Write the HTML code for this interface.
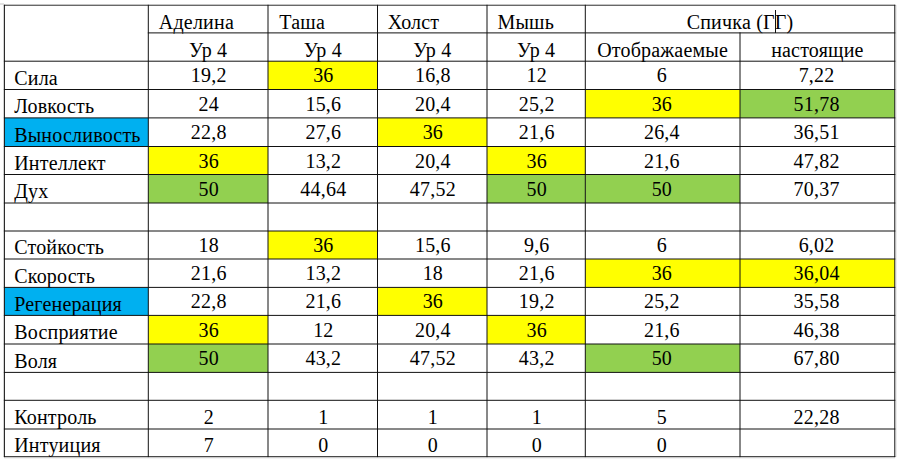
<!DOCTYPE html>
<html><head><meta charset="utf-8"><style>
html,body{margin:0;padding:0;background:#fff;}
body{width:900px;height:462px;position:relative;overflow:hidden;}
svg{position:absolute;left:0;top:0;}
.t{position:absolute;font-family:"Liberation Serif",serif;font-size:20px;line-height:40px;height:40px;white-space:nowrap;color:#000;letter-spacing:0.2px;}
.t::after{content:"";}
.c{text-align:center;}
</style></head><body>
<svg width="900" height="462" style="z-index:0"><rect x="3" y="5" width="1" height="452" fill="#ebebeb"/><rect x="0" y="3" width="4" height="2" fill="#e2e2e2"/><rect x="4" y="4" width="891" height="1" fill="#e6e6e6"/><rect x="4" y="457" width="891" height="1" fill="#dcdcdc"/><rect x="4" y="458" width="891" height="1" fill="#f2f2f2"/><rect x="896" y="5" width="1" height="452" fill="#ececec"/><rect x="268.00" y="61.20" width="109.50" height="28.30" fill="#ffff00"/><rect x="585.30" y="89.50" width="154.70" height="28.40" fill="#ffff00"/><rect x="740.00" y="89.50" width="154.80" height="28.40" fill="#92d050"/><rect x="4.40" y="117.90" width="143.90" height="28.60" fill="#00b0f0"/><rect x="377.50" y="117.90" width="109.50" height="28.60" fill="#ffff00"/><rect x="148.30" y="146.50" width="119.70" height="28.00" fill="#ffff00"/><rect x="487.00" y="146.50" width="98.30" height="28.00" fill="#ffff00"/><rect x="148.30" y="174.50" width="119.70" height="28.50" fill="#92d050"/><rect x="487.00" y="174.50" width="98.30" height="28.50" fill="#92d050"/><rect x="585.30" y="174.50" width="154.70" height="28.50" fill="#92d050"/><rect x="268.00" y="231.00" width="109.50" height="28.00" fill="#ffff00"/><rect x="585.30" y="259.00" width="154.70" height="28.40" fill="#ffff00"/><rect x="740.00" y="259.00" width="154.80" height="28.40" fill="#ffff00"/><rect x="4.40" y="287.40" width="143.90" height="28.00" fill="#00b0f0"/><rect x="377.50" y="287.40" width="109.50" height="28.00" fill="#ffff00"/><rect x="148.30" y="315.40" width="119.70" height="28.60" fill="#ffff00"/><rect x="487.00" y="315.40" width="98.30" height="28.60" fill="#ffff00"/><rect x="148.30" y="344.00" width="119.70" height="28.40" fill="#92d050"/><rect x="585.30" y="344.00" width="154.70" height="28.40" fill="#92d050"/></svg>
<svg width="900" height="462" style="z-index:1" stroke="#111" stroke-width="1.0" stroke-linecap="square"><line x1="4.4" y1="5.30" x2="894.8" y2="5.30" stroke-width="0.8"/><line x1="148.3" y1="32.90" x2="894.8" y2="32.90"/><line x1="4.4" y1="61.20" x2="894.8" y2="61.20"/><line x1="4.4" y1="89.50" x2="894.8" y2="89.50"/><line x1="4.4" y1="117.90" x2="894.8" y2="117.90"/><line x1="4.4" y1="146.50" x2="894.8" y2="146.50"/><line x1="4.4" y1="174.50" x2="894.8" y2="174.50"/><line x1="4.4" y1="203.00" x2="894.8" y2="203.00"/><line x1="4.4" y1="231.00" x2="894.8" y2="231.00"/><line x1="4.4" y1="259.00" x2="894.8" y2="259.00"/><line x1="4.4" y1="287.40" x2="894.8" y2="287.40"/><line x1="4.4" y1="315.40" x2="894.8" y2="315.40"/><line x1="4.4" y1="344.00" x2="894.8" y2="344.00"/><line x1="4.4" y1="372.40" x2="894.8" y2="372.40"/><line x1="4.4" y1="400.30" x2="894.8" y2="400.30"/><line x1="4.4" y1="429.00" x2="894.8" y2="429.00"/><line x1="4.4" y1="456.60" x2="894.8" y2="456.60" stroke-width="0.85"/><line x1="4.40" y1="5.30" x2="4.40" y2="456.60"/><line x1="148.30" y1="5.30" x2="148.30" y2="456.60"/><line x1="268.00" y1="5.30" x2="268.00" y2="456.60"/><line x1="377.50" y1="5.30" x2="377.50" y2="456.60"/><line x1="487.00" y1="5.30" x2="487.00" y2="456.60"/><line x1="585.30" y1="5.30" x2="585.30" y2="456.60"/><line x1="740.00" y1="32.90" x2="740.00" y2="456.60"/><line x1="894.80" y1="5.30" x2="894.80" y2="456.60"/></svg>
<div class="t" style="left:158.80px;top:1.85px">Аделина</div><div class="t c" style="left:148.30px;width:119.70px;top:29.55px">Ур 4</div><div class="t" style="left:279.30px;top:1.85px">Таша</div><div class="t c" style="left:268.00px;width:109.50px;top:29.55px">Ур 4</div><div class="t" style="left:387.80px;top:1.85px">Холст</div><div class="t c" style="left:377.50px;width:109.50px;top:29.55px">Ур 4</div><div class="t" style="left:497.50px;top:1.85px">Мышь</div><div class="t c" style="left:487.00px;width:98.30px;top:29.55px">Ур 4</div><div class="t c" style="left:585.30px;width:309.50px;top:1.85px">Спичка (ГГ)</div><div class="t c" style="left:585.30px;width:154.70px;top:29.55px">Отображаемые</div><div class="t c" style="left:740.00px;width:154.80px;top:29.55px">настоящие</div><div class="t" style="left:14.20px;top:57.95px">Сила</div><div class="t c" style="left:148.90px;width:119.70px;top:55.35px">19,2</div><div class="t c" style="left:268.60px;width:109.50px;top:55.35px">36</div><div class="t c" style="left:378.10px;width:109.50px;top:55.35px">16,8</div><div class="t c" style="left:487.60px;width:98.30px;top:55.35px">12</div><div class="t c" style="left:584.50px;width:154.70px;top:55.35px">6</div><div class="t c" style="left:739.20px;width:154.80px;top:55.35px">7,22</div><div class="t" style="left:14.20px;top:86.35px">Ловкость</div><div class="t c" style="left:148.90px;width:119.70px;top:83.70px">24</div><div class="t c" style="left:268.60px;width:109.50px;top:83.70px">15,6</div><div class="t c" style="left:378.10px;width:109.50px;top:83.70px">20,4</div><div class="t c" style="left:487.60px;width:98.30px;top:83.70px">25,2</div><div class="t c" style="left:584.50px;width:154.70px;top:83.70px">36</div><div class="t c" style="left:739.20px;width:154.80px;top:83.70px">51,78</div><div class="t" style="left:14.20px;top:114.95px">Выносливость</div><div class="t c" style="left:148.90px;width:119.70px;top:112.20px">22,8</div><div class="t c" style="left:268.60px;width:109.50px;top:112.20px">27,6</div><div class="t c" style="left:378.10px;width:109.50px;top:112.20px">36</div><div class="t c" style="left:487.60px;width:98.30px;top:112.20px">21,6</div><div class="t c" style="left:584.50px;width:154.70px;top:112.20px">26,4</div><div class="t c" style="left:739.20px;width:154.80px;top:112.20px">36,51</div><div class="t" style="left:14.20px;top:142.95px">Интеллект</div><div class="t c" style="left:148.90px;width:119.70px;top:140.50px">36</div><div class="t c" style="left:268.60px;width:109.50px;top:140.50px">13,2</div><div class="t c" style="left:378.10px;width:109.50px;top:140.50px">20,4</div><div class="t c" style="left:487.60px;width:98.30px;top:140.50px">36</div><div class="t c" style="left:584.50px;width:154.70px;top:140.50px">21,6</div><div class="t c" style="left:739.20px;width:154.80px;top:140.50px">47,82</div><div class="t" style="left:14.20px;top:171.45px">Дух</div><div class="t c" style="left:148.90px;width:119.70px;top:168.75px">50</div><div class="t c" style="left:268.60px;width:109.50px;top:168.75px">44,64</div><div class="t c" style="left:378.10px;width:109.50px;top:168.75px">47,52</div><div class="t c" style="left:487.60px;width:98.30px;top:168.75px">50</div><div class="t c" style="left:584.50px;width:154.70px;top:168.75px">50</div><div class="t c" style="left:739.20px;width:154.80px;top:168.75px">70,37</div><div class="t" style="left:14.20px;top:227.45px">Стойкость</div><div class="t c" style="left:148.90px;width:119.70px;top:225.00px">18</div><div class="t c" style="left:268.60px;width:109.50px;top:225.00px">36</div><div class="t c" style="left:378.10px;width:109.50px;top:225.00px">15,6</div><div class="t c" style="left:487.60px;width:98.30px;top:225.00px">9,6</div><div class="t c" style="left:584.50px;width:154.70px;top:225.00px">6</div><div class="t c" style="left:739.20px;width:154.80px;top:225.00px">6,02</div><div class="t" style="left:14.20px;top:255.85px">Скорость</div><div class="t c" style="left:148.90px;width:119.70px;top:253.20px">21,6</div><div class="t c" style="left:268.60px;width:109.50px;top:253.20px">13,2</div><div class="t c" style="left:378.10px;width:109.50px;top:253.20px">18</div><div class="t c" style="left:487.60px;width:98.30px;top:253.20px">21,6</div><div class="t c" style="left:584.50px;width:154.70px;top:253.20px">36</div><div class="t c" style="left:739.20px;width:154.80px;top:253.20px">36,04</div><div class="t" style="left:14.20px;top:283.85px">Регенерация</div><div class="t c" style="left:148.90px;width:119.70px;top:281.40px">22,8</div><div class="t c" style="left:268.60px;width:109.50px;top:281.40px">21,6</div><div class="t c" style="left:378.10px;width:109.50px;top:281.40px">36</div><div class="t c" style="left:487.60px;width:98.30px;top:281.40px">19,2</div><div class="t c" style="left:584.50px;width:154.70px;top:281.40px">25,2</div><div class="t c" style="left:739.20px;width:154.80px;top:281.40px">35,58</div><div class="t" style="left:14.20px;top:312.45px">Восприятие</div><div class="t c" style="left:148.90px;width:119.70px;top:309.70px">36</div><div class="t c" style="left:268.60px;width:109.50px;top:309.70px">12</div><div class="t c" style="left:378.10px;width:109.50px;top:309.70px">20,4</div><div class="t c" style="left:487.60px;width:98.30px;top:309.70px">36</div><div class="t c" style="left:584.50px;width:154.70px;top:309.70px">21,6</div><div class="t c" style="left:739.20px;width:154.80px;top:309.70px">46,38</div><div class="t" style="left:14.20px;top:340.85px">Воля</div><div class="t c" style="left:148.90px;width:119.70px;top:338.20px">50</div><div class="t c" style="left:268.60px;width:109.50px;top:338.20px">43,2</div><div class="t c" style="left:378.10px;width:109.50px;top:338.20px">47,52</div><div class="t c" style="left:487.60px;width:98.30px;top:338.20px">43,2</div><div class="t c" style="left:584.50px;width:154.70px;top:338.20px">50</div><div class="t c" style="left:739.20px;width:154.80px;top:338.20px">67,80</div><div class="t" style="left:14.20px;top:397.45px">Контроль</div><div class="t c" style="left:148.90px;width:119.70px;top:397.45px">2</div><div class="t c" style="left:268.60px;width:109.50px;top:397.45px">1</div><div class="t c" style="left:378.10px;width:109.50px;top:397.45px">1</div><div class="t c" style="left:487.60px;width:98.30px;top:397.45px">1</div><div class="t c" style="left:584.50px;width:154.70px;top:397.45px">5</div><div class="t c" style="left:739.20px;width:154.80px;top:397.45px">22,28</div><div class="t" style="left:14.20px;top:425.05px">Интуиция</div><div class="t c" style="left:148.90px;width:119.70px;top:425.05px">7</div><div class="t c" style="left:268.60px;width:109.50px;top:425.05px">0</div><div class="t c" style="left:378.10px;width:109.50px;top:425.05px">0</div><div class="t c" style="left:487.60px;width:98.30px;top:425.05px">0</div><div class="t c" style="left:584.50px;width:154.70px;top:425.05px">0</div>
<div style="position:absolute;left:775px;top:10px;width:1px;height:23px;background:#111;z-index:3"></div>
</body></html>
